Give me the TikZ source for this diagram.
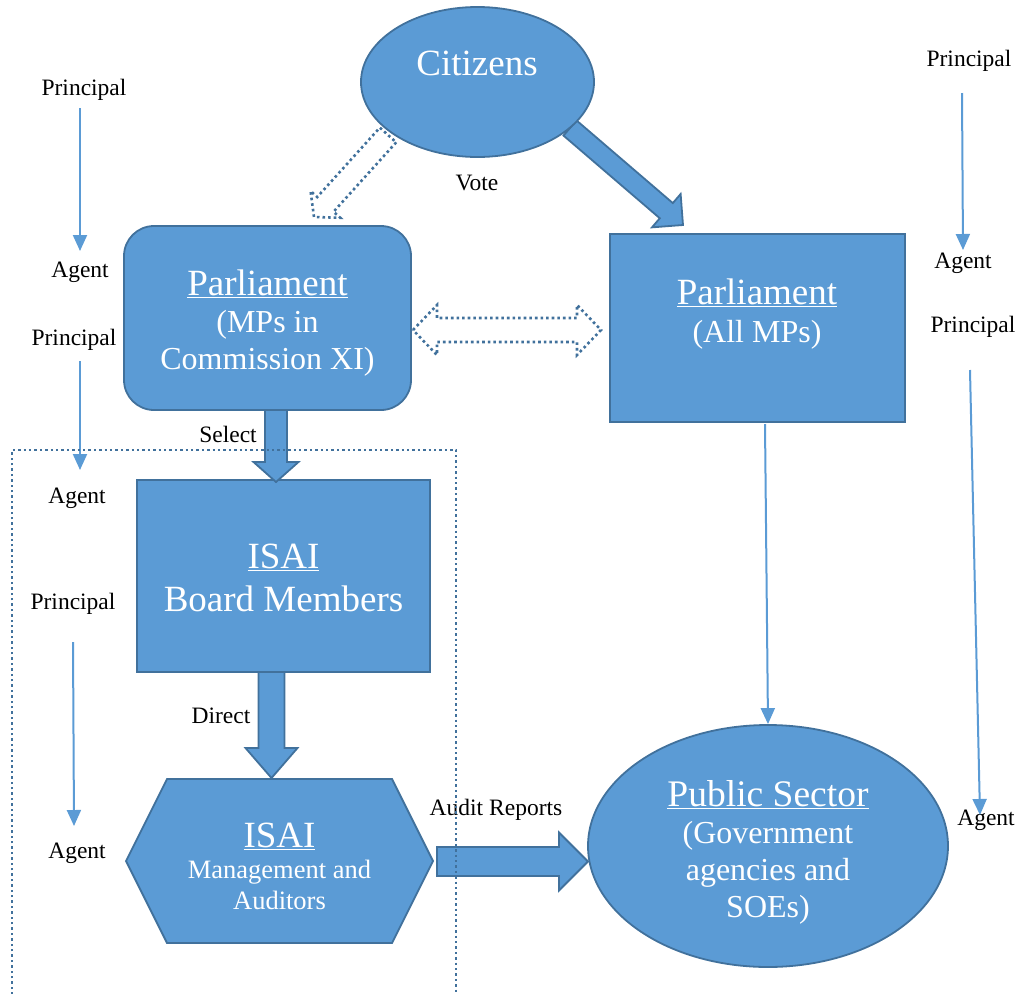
\documentclass[tikz,border=0pt]{standalone}
\usepackage{fontspec}
\setmainfont{Liberation Serif}
\usetikzlibrary{calc,arrows.meta,shapes.geometric}
\definecolor{fillblue}{HTML}{5B9BD5}
\definecolor{edgeblue}{HTML}{41719C}
% [style]{from}{to}{shaft half width}{head half width}{head length}
\newcommand\blockarr[6][]{%
  \draw[#1] let \p1=(#2), \p2=(#3), \p3=($(#3)!#6!(#2)$) in
   ($(\p1)!#4!90:(\p2)$) -- ($(\p3)!#4!-90:(\p1)$) -- ($(\p3)!#5!-90:(\p1)$) -- (\p2)
   -- ($(\p3)!#5!90:(\p1)$) -- ($(\p3)!#4!90:(\p1)$) -- ($(\p1)!#4!-90:(\p2)$) -- cycle;
}
\tikzset{
  shapebox/.style={fill=fillblue, draw=edgeblue, line width=1.8pt, text=white, align=center},
  blk/.style={fill=fillblue, draw=edgeblue, line width=1.8pt, line join=miter},
  dotarr/.style={draw=edgeblue, line width=2.6pt, dash pattern=on 2.6pt off 3pt, line join=miter},
  thinarr/.style={draw=fillblue, line width=2pt, -{Triangle[width=14pt,length=16pt]}},
  lab/.style={font=\fontsize{23.5}{26}\selectfont, text=black, inner sep=0pt},
  bigf/.style={font=\fontsize{37}{40}\selectfont},
}
\begin{document}
\begin{tikzpicture}[x=1pt,y=-1pt]
\useasboundingbox (0,0) rectangle (1021,994);

% connector end points
\coordinate (cv1) at (388,135);
\coordinate (cv2) at (314,217);
\coordinate (ca1) at (570,128);
\coordinate (ca2) at (683,225);
\coordinate (dl) at (413,330);
\coordinate (dr) at (601,330);

% arrows from citizens (drawn under the ellipse)
\blockarr[dotarr]{cv1}{cv2}{11pt}{20pt}{17pt}
\blockarr[blk]{ca1}{ca2}{10pt}{22pt}{22pt}

% shapes
\node[shapebox, ellipse, minimum width=233pt, minimum height=150pt, inner sep=0pt] (cit) at (477.5,82) {};
\node[text=white, bigf] (citt) at (477,63) {Citizens};

\node[shapebox, rectangle, rounded corners=30pt, minimum width=287pt, minimum height=184pt] (pmc) at (267.5,318) {};
\node[text=white, align=center, font=\fontsize{32}{37}\selectfont] (pmct) at (267.5,323)
  {{\fontsize{37}{40}\selectfont\underline{Parliament}}\\(MPs in\\Commission XI)};

\node[shapebox, rectangle, minimum width=295pt, minimum height=188pt] (pall) at (757.5,328) {};
\node[text=white, align=center, font=\fontsize{32}{38}\selectfont] (pallt) at (757,314)
  {{\fontsize{37}{40}\selectfont\underline{Parliament}}\\(All MPs)};

\node[shapebox, rectangle, minimum width=293pt, minimum height=192pt] (board) at (283.5,576) {};
\node[text=white, align=center, font=\fontsize{37}{43}\selectfont] (boardt) at (283.5,578)
  {\underline{ISAI}\\Board Members};

\coordinate (hex) at (279.5,861);
\draw[blk] (126,861) coordinate (hexw) -- (167,779) -- (392,779) -- (433,861) coordinate (hexe)
  -- (392,943) -- (167,943) -- cycle;
\node[text=white, align=center, font=\fontsize{26.5}{31}\selectfont] (hext) at (279.5,866)
  {{\fontsize{37}{40}\selectfont\underline{ISAI}}\\Management and\\Auditors};

\node[shapebox, ellipse, minimum width=360pt, minimum height=242pt, inner sep=0pt] (pub) at (768,846) {};
\node[text=white, align=center, font=\fontsize{32}{37}\selectfont] (pubt) at (768,852)
  {{\fontsize{37.5}{40}\selectfont\underline{Public Sector}}\\(Government\\agencies and\\SOEs)};

% double dotted arrow between parliaments
\draw[dotarr] let \p1=(dl), \p2=(dr) in
  (\p1) -- (\x1+24pt,\y1+25pt) -- (\x1+24pt,\y1+12pt) -- (\x2-24pt,\y2+12pt) -- (\x2-24pt,\y2+25pt)
  -- (\p2) -- (\x2-24pt,\y2-25pt) -- (\x2-24pt,\y2-12pt) -- (\x1+24pt,\y1-12pt) -- (\x1+24pt,\y1-25pt) -- cycle;

% block arrows
\coordinate (s1) at (276,410);
\coordinate (s2) at (276,482);
\blockarr[blk]{s1}{s2}{11pt}{22.5pt}{20pt}
\coordinate (d1) at (271.5,672);
\coordinate (d2) at (271.5,778);
\blockarr[blk]{d1}{d2}{13pt}{26pt}{30pt}
\coordinate (a1) at (437,861.5);
\coordinate (a2) at (588,861.5);
\blockarr[blk]{a1}{a2}{14.5pt}{29pt}{29pt}

% all MPs to public sector
\coordinate (m1) at (765,424);
\draw[thinarr] (m1) -- (pub.north);

% principal / agent labels and arrows
\node[lab] (lp1) at (84,90) {Principal};
\node[lab] (la1) at (80,272) {Agent};
\node[lab] (lp2) at (74,340) {Principal};
\node[lab] (la2) at (77,498) {Agent};
\node[lab] (lp3) at (73,604) {Principal};
\node[lab] (la3) at (77,853) {Agent};
\node[lab] (rp1) at (969,61) {Principal};
\node[lab] (ra1) at (963,263) {Agent};
\node[lab] (rp2) at (973,327) {Principal};
\node[lab] (ra2) at (986,820) {Agent};

\draw[thinarr] (80,108) -- (80,251);
\draw[thinarr] (80,361) -- (80,470);
\draw[thinarr] (73,642) -- (74,826);
\draw[thinarr] (962,93) -- (963,250);
\draw[thinarr] (970,370) -- (980,815);

% connector labels
\node[lab] (vote) at (477,183) {Vote};
\node[lab] (sel) at (228,434) {Select};
\node[lab] (dir) at (221,716) {Direct};
\node[lab] (aud) at (496,810) {Audit Reports};

% dotted frame
\draw[draw=edgeblue, line width=2.4pt, dash pattern=on 2.4pt off 3pt] (12,1000) -- (12,450) -- (456,450) -- (456,1000);
\end{tikzpicture}
\end{document}
